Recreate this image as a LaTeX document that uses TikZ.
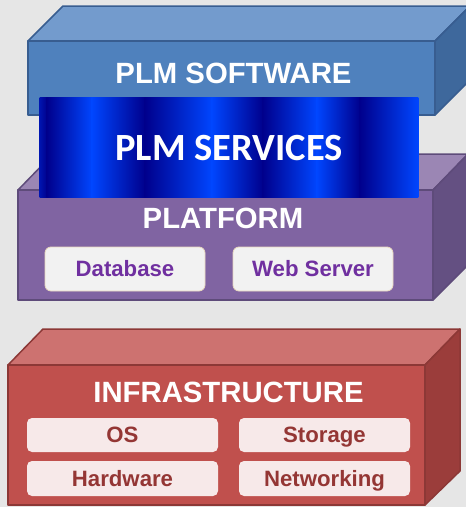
\documentclass[tikz,border=0pt]{standalone}
\usepackage{fontspec}
\setmainfont{Liberation Sans}
\newfontfamily\calibrifont{Carlito}
\usepackage{tikz}

\definecolor{bggray}{RGB}{230,230,230}
\definecolor{swfront}{RGB}{79,129,189}
\definecolor{swtop}{RGB}{115,155,205}
\definecolor{swside}{RGB}{62,104,156}
\definecolor{swline}{RGB}{56,93,144}
\definecolor{pffront}{RGB}{128,100,162}
\definecolor{pftop}{RGB}{155,134,180}
\definecolor{pfside}{RGB}{100,80,130}
\definecolor{pfline}{RGB}{94,75,122}
\definecolor{infront}{RGB}{192,80,77}
\definecolor{intop}{RGB}{205,114,112}
\definecolor{inflank}{RGB}{155,61,59}
\definecolor{inline}{RGB}{140,56,54}
\definecolor{svdark}{RGB}{0,0,140}
\definecolor{svmid}{RGB}{0,20,175}
\definecolor{svbright}{RGB}{0,70,255}
\definecolor{pfitemfill}{RGB}{242,242,242}
\definecolor{pfitemline}{RGB}{232,216,190}
\definecolor{pfitemtext}{RGB}{112,48,160}
\definecolor{initemfill}{RGB}{247,233,233}
\definecolor{initemtext}{RGB}{148,54,52}

\tikzset{
  layertitle/.style={text=white, anchor=base, inner sep=0pt,
    font=\bfseries\fontsize{29.3}{35}\selectfont},
  pfitem/.style={draw=pfitemline, fill=pfitemfill, text=pfitemtext,
    line width=0.8pt, rounded corners=6pt, inner sep=0pt,
    minimum width=160pt, minimum height=44pt,
    text height=15.75pt, text depth=0pt,
    font=\bfseries\fontsize{22.2}{26}\selectfont},
  initem/.style={fill=initemfill, text=initemtext,
    rounded corners=5pt, inner sep=0pt, minimum height=34pt,
    text height=15.75pt, text depth=0pt,
    font=\bfseries\fontsize{22.2}{26}\selectfont}
}

\begin{document}
\begin{tikzpicture}[x=1pt,y=-1pt]
    \useasboundingbox (0,0) rectangle (466,507);
    \fill[bggray] (0,0) rectangle (466,507);
    \clip (0,0) rectangle (466,507);

    % infrastructure layer
    \begin{scope}[draw=inline, line width=1.5pt, line join=round]
      \filldraw[fill=intop] (8,365) -- (43,329) -- (460,329) -- (425,365) -- cycle;
      \filldraw[fill=inflank] (425,365) -- (460,329) -- (460,471) -- (425,505) -- cycle;
      \filldraw[fill=infront] (8,365) rectangle (425,505);
    \end{scope}
    \node[layertitle] (infra) at (228.5,402) {INFRASTRUCTURE};
    \node[initem, minimum width=191pt] (os) at (122.5,435) {OS};
    \node[initem, minimum width=171pt] (storage) at (324.5,435) {Storage};
    \node[initem, minimum width=191pt, minimum height=35pt] (hw) at (122.5,478.5) {Hardware};
    \node[initem, minimum width=171pt, minimum height=35pt] (net) at (324.5,478.5) {Networking};

    % platform layer
    \begin{scope}[draw=pfline, line width=1.5pt, line join=round]
      \filldraw[fill=pftop] (18,190) -- (53,154) -- (468,154) -- (433,190) -- cycle;
      \filldraw[fill=pfside] (433,190) -- (468,154) -- (468,265) -- (433,300) -- cycle;
      \filldraw[fill=pffront] (18,190) rectangle (433,300);
    \end{scope}
    \node[layertitle] (platform) at (223,228) {PLATFORM};
    \node[pfitem] (db) at (125,269) {Database};
    \node[pfitem] (web) at (313,269) {Web Server};

    % software layer
    \begin{scope}[draw=swline, line width=1.5pt, line join=round]
      \filldraw[fill=swtop] (28,41) -- (63,6) -- (470,6) -- (435,41) -- cycle;
      \filldraw[fill=swside] (435,41) -- (470,6) -- (470,80) -- (435,115) -- cycle;
      \filldraw[fill=swfront] (28,41) rectangle (435,115);
    \end{scope}
    \node[layertitle] (software) at (233.5,83) {PLM SOFTWARE};

    % services band
    \foreach \xa/\xb/\ca/\cb in {40/47/svmid/svdark, 47/92/svdark/svbright,
        92/145/svbright/svdark, 145/212/svdark/svbright, 212/263/svbright/svdark,
        263/317/svdark/svbright, 317/360/svbright/svdark, 360/418/svdark/svbright}
      \shade[left color=\ca, right color=\cb] (\xa-0.3,97) rectangle (\xb+0.3,197);
    \node[text=white, anchor=base, inner sep=0pt,
      font=\calibrifont\bfseries\fontsize{38.5}{46}\selectfont] (services) at (229,160) {PLM SERVICES};
\end{tikzpicture}
\end{document}
